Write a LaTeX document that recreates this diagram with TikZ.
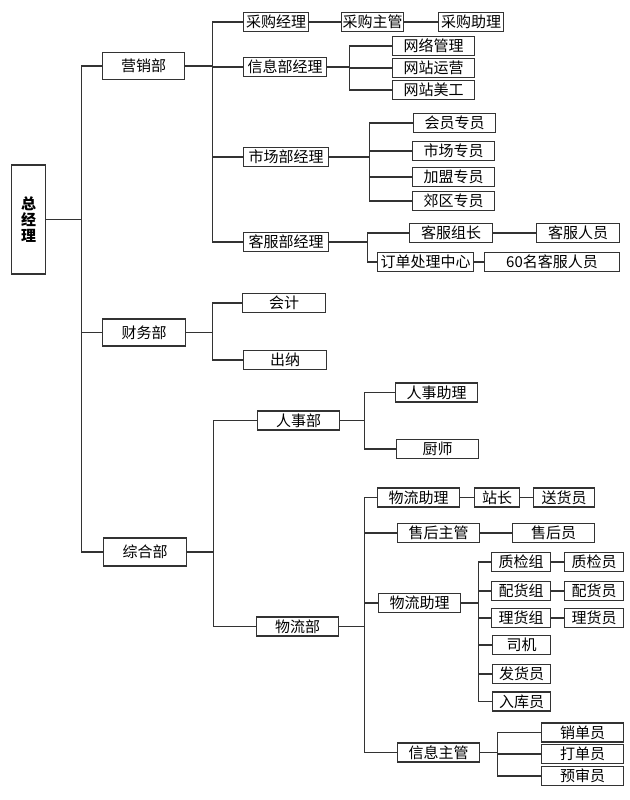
\documentclass[tikz,border=0pt]{standalone}
\usepackage{fontspec}
\newfontfamily\cjk{Noto Sans CJK SC}
\usetikzlibrary{positioning}

\begin{document}
\begin{tikzpicture}[x=1pt, y=-1pt,
    box/.style={draw=black!80, line width=1.1pt, minimum height=19, inner sep=0pt, anchor=west, font=\cjk\fontsize{15}{16}\selectfont},
    link/.style={draw=black!80, line width=1.1pt}]
    \useasboundingbox (0,0) rectangle (629,800);

    % top
    \node[box, minimum width=34, minimum height=109, align=center, font=\cjk\bfseries\fontsize{15}{16}\selectfont] (gm) at (11,219.5) {总\\经\\理};

    % departments
    \node[box, minimum width=82, minimum height=27] (yx) at (102,66) {营销部};
    \node[box, minimum width=83, minimum height=27] (cw) at (102,332.5) {财务部};
    \node[box, minimum width=83, minimum height=28] (zh) at (103,552) {综合部};

    % sales
    \node[box, minimum width=65] (cg) at (243,22) {采购经理};
    \node[box, minimum width=62] (cgz) at (341,22) {采购主管};
    \node[box, minimum width=65] (cgzl) at (438,22) {采购助理};
    \node[box, minimum width=83] (xx) at (243,67) {信息部经理};
    \node[box, minimum width=82] (nm) at (392,46) {网络管理};
    \node[box, minimum width=82] (wy) at (392,68) {网站运营};
    \node[box, minimum width=82] (wm) at (392,90) {网站美工};
    \node[box, minimum width=85] (sc) at (243,157) {市场部经理};
    \node[box, minimum width=82] (hy) at (413,123) {会员专员};
    \node[box, minimum width=82] (sz) at (412,151) {市场专员};
    \node[box, minimum width=82] (jm) at (412,177) {加盟专员};
    \node[box, minimum width=82] (jq) at (412,201) {郊区专员};
    \node[box, minimum width=85] (kf) at (243,242) {客服部经理};
    \node[box, minimum width=83] (kz) at (409,233) {客服组长};
    \node[box, minimum width=83] (kr) at (536,233) {客服人员};
    \node[box, minimum width=96] (dd) at (377,262) {订单处理中心};
    \node[box, minimum width=135] (ds) at (484,262) {60名客服人员};

    % finance
    \node[box, minimum width=83] (kj) at (242,303) {会计};
    \node[box, minimum width=83] (cn) at (243,360) {出纳};

    % general
    \node[box, minimum width=82] (rs) at (257,420.5) {人事部};
    \node[box, minimum width=82] (rz) at (395,392.5) {人事助理};
    \node[box, minimum width=82] (cs) at (396,449) {厨师};
    \node[box, minimum width=82] (lg) at (256,626.5) {物流部};
    \node[box, minimum width=82] (lz) at (377,497.5) {物流助理};
    \node[box, minimum width=45] (zz) at (474,497.5) {站长};
    \node[box, minimum width=61] (sh) at (533,497.5) {送货员};
    \node[box, minimum width=82] (shz) at (397,533) {售后主管};
    \node[box, minimum width=82] (shy) at (512,533) {售后员};
    \node[box, minimum width=82] (lzb) at (378,603) {物流助理};
    \node[box, minimum width=59] (zj) at (491,562) {质检组};
    \node[box, minimum width=59] (zjy) at (564,562) {质检员};
    \node[box, minimum width=59] (ph) at (491,591) {配货组};
    \node[box, minimum width=59] (phy) at (564,591) {配货员};
    \node[box, minimum width=59] (lh) at (491,618) {理货组};
    \node[box, minimum width=59] (lhy) at (564,618) {理货员};
    \node[box, minimum width=58] (sj) at (492,645) {司机};
    \node[box, minimum width=58] (fh) at (492,674) {发货员};
    \node[box, minimum width=58] (rk) at (492,701.5) {入库员};
    \node[box, minimum width=82] (xz) at (397,752.5) {信息主管};
    \node[box, minimum width=82] (xd) at (541,732.5) {销单员};
    \node[box, minimum width=82] (dy) at (541,754) {打单员};
    \node[box, minimum width=82] (ys) at (541,776) {预审员};

    % links
    \foreach \n in {yx,cw,zh} \draw[link] (gm.east) -- ++(35,0) |- (\n.west);
    \foreach \n in {cg,xx,sc,kf} \draw[link] (yx.east) -- ++(27,0) |- (\n.west);
    \foreach \n in {nm,wy,wm} \draw[link] (xx.east) -- ++(22,0) |- (\n.west);
    \foreach \n in {hy,sz,jm,jq} \draw[link] (sc.east) -- ++(40,0) |- (\n.west);
    \foreach \n in {kz,dd} \draw[link] (kf.east) -- ++(38,0) |- (\n.west);
    \foreach \n in {kj,cn} \draw[link] (cw.east) -- ++(26,0) |- (\n.west);
    \foreach \n in {rs,lg} \draw[link] (zh.east) -- ++(26,0) |- (\n.west);
    \foreach \n in {rz,cs} \draw[link] (rs.east) -- ++(24,0) |- (\n.west);
    \foreach \n in {lz,shz,lzb,xz} \draw[link] (lg.east) -- ++(25,0) |- (\n.west);
    \foreach \n in {zj,ph,lh,sj,fh,rk} \draw[link] (lzb.east) -- ++(17,0) |- (\n.west);
    \foreach \n in {xd,dy,ys} \draw[link] (xz.east) -- ++(17,0) |- (\n.west);
    \draw[link] (cg) -- (cgz) -- (cgzl);
    \draw[link] (kz) -- (kr);
    \draw[link] (dd) -- (ds);
    \draw[link] (lz) -- (zz) -- (sh);
    \draw[link] (shz) -- (shy);
    \draw[link] (zj) -- (zjy);
    \draw[link] (ph) -- (phy);
    \draw[link] (lh) -- (lhy);
\end{tikzpicture}
\end{document}
